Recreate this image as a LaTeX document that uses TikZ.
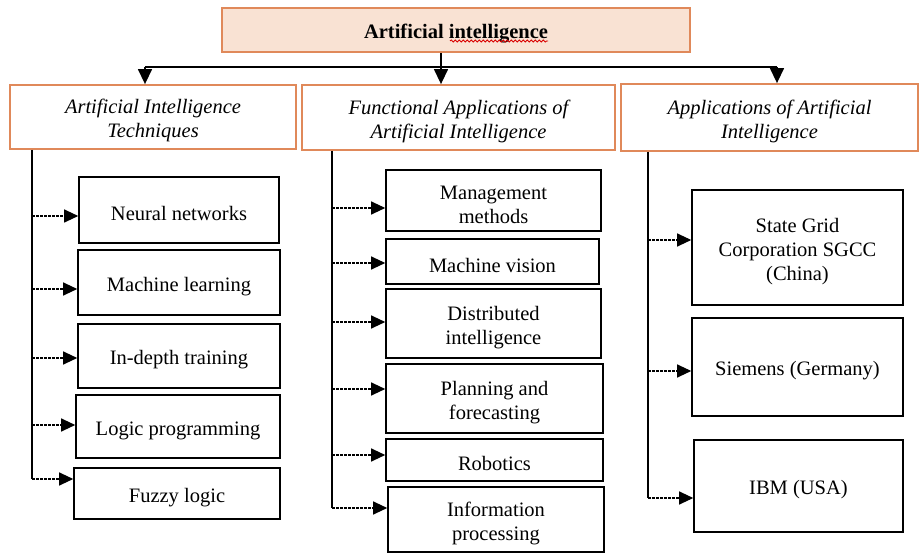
\documentclass[tikz,border=0pt]{standalone}
\usepackage{fontspec}
\setmainfont{Liberation Serif}
\usetikzlibrary{arrows.meta,decorations.pathmorphing}
\definecolor{edgeorange}{HTML}{E0895A}
\definecolor{titlefill}{HTML}{F9E2D3}
% a taller first line sets each label a little below the middle of its box
\newcommand{\firstlinestrut}{\rule{0pt}{22pt}}
\tikzset{
  txt/.style={font=\fontsize{20.5}{24}\selectfont, align=center, inner sep=0pt},
  topbox/.style={txt, draw=edgeorange, fill=titlefill, line width=1.8pt, font=\fontsize{20.5}{24}\selectfont\bfseries},
  headbox/.style={txt, draw=edgeorange, line width=1.8pt, font=\fontsize{20.5}{24}\selectfont\itshape},
  itembox/.style={txt, draw=black, line width=1.6pt},
  tree/.style={line width=1.4pt},
  treearrow/.style={line width=1.4pt, -{Triangle[length=15pt,width=14pt]}},
  subarrow/.style={line width=1.1pt, dash pattern=on 2.5pt off 1.5pt, -{Triangle[length=14pt,width=13pt]}}
}
\begin{document}
\begin{tikzpicture}[x=1pt,y=-1pt]
\useasboundingbox (0,0) rectangle (919,553);

% title and the three branch headings
\node[topbox, minimum width=468pt, minimum height=44pt] (top) at (456,30) {\firstlinestrut Artificial intelligence};
\draw[red!85!black, line width=0.8pt, decorate, decoration={snake, amplitude=1.1pt, segment length=4pt}] (450,41) -- (548,41);

\node[headbox, minimum width=286pt, minimum height=64pt] (h1) at (153,117) {\firstlinestrut Artificial Intelligence\\Techniques};
\node[headbox, minimum width=313pt, minimum height=65pt] (h2) at (458.5,117.5) {\firstlinestrut Functional Applications of\\Artificial Intelligence};
\node[headbox, minimum width=297pt, minimum height=67pt] (h3) at (769.5,117.5) {\firstlinestrut Applications of Artificial\\Intelligence};

% connectors from the title to the headings
\coordinate (jl) at (145,67);
\coordinate (jm) at (441,67);
\coordinate (jr) at (777,67);
\draw[tree] (jl) -- (jr);
\draw[treearrow] (top.south -| jm) -- (h2.north -| jm);
\draw[treearrow] (jl) -- (h1.north -| jl);
\draw[treearrow] (jr) -- (h3.north -| jr);

% techniques
\node[itembox, minimum width=200pt, minimum height=66pt] (nn) at (179,210) {\firstlinestrut Neural networks};
\node[itembox, minimum width=202pt, minimum height=65pt] (ml) at (179,282.5) {\firstlinestrut Machine learning};
\node[itembox, minimum width=202pt, minimum height=64pt] (idt) at (179,356) {\firstlinestrut In-depth training};
\node[itembox, minimum width=204pt, minimum height=63pt] (lp) at (178,426.5) {\firstlinestrut Logic programming};
\node[itembox, minimum width=206pt, minimum height=51pt] (fl) at (177,493.5) {\firstlinestrut Fuzzy logic};

\coordinate (t1) at (32,479);
\draw[tree] (h1.south -| t1) -- (t1);
\draw[subarrow] (t1 |- 0,216) -- (nn.west |- 0,216);
\draw[subarrow] (t1 |- 0,289) -- (ml.west |- 0,289);
\draw[subarrow] (t1 |- 0,358) -- (idt.west |- 0,358);
\draw[subarrow] (t1 |- 0,425) -- (lp.west |- 0,425);
\draw[subarrow] (t1) -- (fl.west |- t1);

% functional applications
\node[itembox, minimum width=215pt, minimum height=61pt] (mm) at (493.5,200.5) {\firstlinestrut Management\\methods};
\node[itembox, minimum width=213pt, minimum height=45pt] (mv) at (492.5,261.5) {\firstlinestrut Machine vision};
\node[itembox, minimum width=215pt, minimum height=69pt] (di) at (493.5,323.5) {\firstlinestrut Distributed\\intelligence};
\node[itembox, minimum width=217pt, minimum height=69pt] (pf) at (494.5,398.5) {\firstlinestrut Planning and\\forecasting};
\node[itembox, minimum width=217pt, minimum height=42pt] (rb) at (494.5,460) {\firstlinestrut Robotics};
\node[itembox, minimum width=216pt, minimum height=65pt] (ip) at (496,519.5) {\firstlinestrut Information\\processing};

\coordinate (t2) at (332,508);
\draw[tree] (h2.south -| t2) -- (t2);
\draw[subarrow] (t2 |- 0,208) -- (mm.west |- 0,208);
\draw[subarrow] (t2 |- 0,263) -- (mv.west |- 0,263);
\draw[subarrow] (t2 |- 0,322) -- (di.west |- 0,322);
\draw[subarrow] (t2 |- 0,389) -- (pf.west |- 0,389);
\draw[subarrow] (t2 |- 0,455) -- (rb.west |- 0,455);
\draw[subarrow] (t2) -- (ip.west |- t2);

% applications
\node[itembox, minimum width=211pt, minimum height=115pt] (sg) at (797.5,247.5) {\firstlinestrut State Grid\\Corporation SGCC\\(China)};
\node[itembox, minimum width=211pt, minimum height=98pt] (sm) at (797.5,367) {\firstlinestrut Siemens (Germany)};
\node[itembox, minimum width=209pt, minimum height=92pt] (ibm) at (798.5,486) {\firstlinestrut IBM (USA)};

\coordinate (t3) at (648,498);
\draw[tree] (h3.south -| t3) -- (t3);
\draw[subarrow] (t3 |- 0,240) -- (sg.west |- 0,240);
\draw[subarrow] (t3 |- 0,371) -- (sm.west |- 0,371);
\draw[subarrow] (t3) -- (ibm.west |- t3);
\end{tikzpicture}
\end{document}
